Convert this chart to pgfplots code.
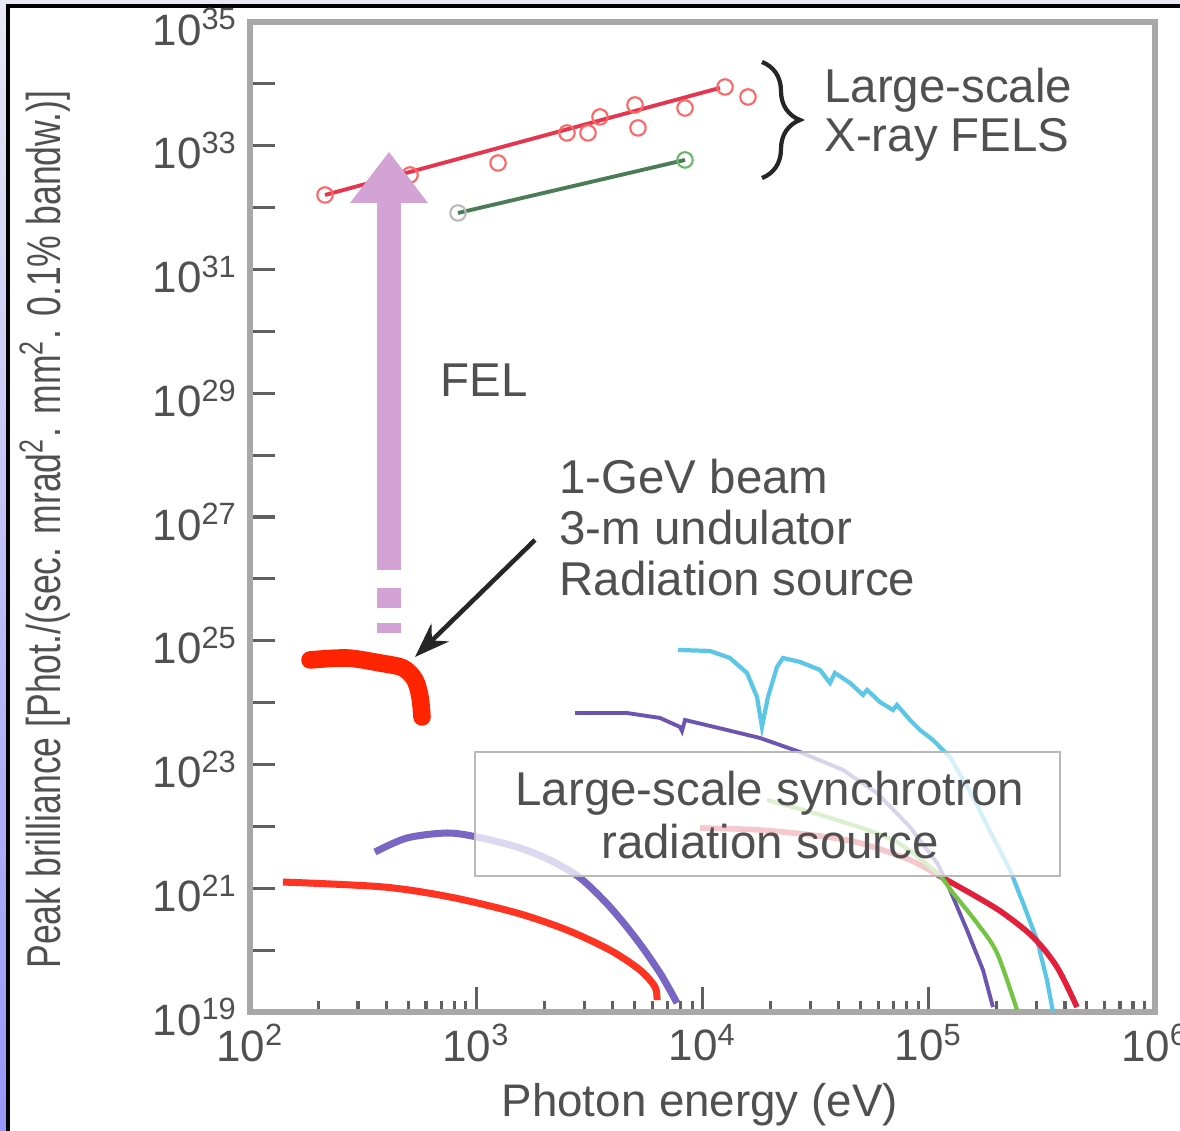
\documentclass[border=0pt]{standalone}
\usepackage{fontspec}
\setmainfont{Liberation Sans}
\newfontfamily\condfont{Liberation Sans}[FakeStretch=0.75]
\usepackage{pgfplots}
\pgfplotsset{compat=1.18}
\usetikzlibrary{decorations.pathreplacing,arrows.meta}

\definecolor{txt}{HTML}{505050}
\definecolor{felpink}{HTML}{D4A3D6}
\definecolor{blobred}{HTML}{FF2400}
\definecolor{lowred}{HTML}{FF3322}
\definecolor{purp}{HTML}{7766C4}
\definecolor{purpthin}{HTML}{6B55B0}
\definecolor{cyanc}{HTML}{5CC6E6}
\definecolor{crim}{HTML}{E2203C}
\definecolor{lgreen}{HTML}{74C444}
\definecolor{dgreen}{HTML}{4C7C55}
\definecolor{framegray}{HTML}{A8A8A8}
\definecolor{lav}{HTML}{E8E8F6}
\newcommand{\annfont}{\fontsize{13.5}{14.5}\selectfont}

\begin{document}
\begin{tikzpicture}
% slide background
\fill[white] (-2.5,-1.19) rectangle (9.30,10.12);
\shade[top color=lav, bottom color=blue!35!lav] (-2.5,-1.19) rectangle (-2.42,10.12);
\fill[lav] (-2.5,10.06) rectangle (9.30,10.12);
\draw[black, line width=1.2pt] (-2.42,-1.19) -- (-2.42,10.06) -- (9.30,10.06);

\begin{axis}[
    at={(0,0)}, anchor=south west,
    scale only axis, width=9.05cm, height=9.9cm,
    xmode=log, ymode=log,
    xmin=100, xmax=1e6, ymin=1e19, ymax=1e35,
    xtick={1e2,1e3,1e4,1e5,1e6},
    xticklabels={10\textsuperscript{2},10\textsuperscript{3},10\textsuperscript{4},10\textsuperscript{5},10\textsuperscript{6}},
    minor xtick={200,300,400,500,600,700,800,900,2000,3000,4000,5000,6000,7000,8000,9000,2e4,3e4,4e4,5e4,6e4,7e4,8e4,9e4,2e5,3e5,4e5,5e5,6e5,7e5,8e5,9e5},
    ytick={1e19,1e20,1e21,1e22,1e23,1e24,1e25,1e26,1e27,1e28,1e29,1e30,1e31,1e32,1e33,1e34,1e35},
    yticklabels={{10\textsuperscript{19}},{},{10\textsuperscript{21}},{},{10\textsuperscript{23}},{},{10\textsuperscript{25}},{},{10\textsuperscript{27}},{},{10\textsuperscript{29}},{},{10\textsuperscript{31}},{},{10\textsuperscript{33}},{},{10\textsuperscript{35}}},
    yminorticks=false,
    xtick pos=bottom, ytick pos=left,
    tick align=inside,
    major tick length=0.25cm, minor tick length=0.11cm,
    tick style={draw=gray!75!black, line width=0.9pt},
    axis line style={draw=framegray, line width=1.6pt},
    ticklabel style={font=\fontsize{12.5}{14}\selectfont, text=txt},
    yticklabel style={yshift=-0.05cm},
    xlabel={Photon energy (eV)},
    ylabel={Peak brilliance [Phot./(sec. mrad\textsuperscript{2}. mm\textsuperscript{2}. 0.1\% bandw.)]},
    xlabel style={at={(axis description cs:0.497,-0.094)}, anchor=center, font=\fontsize{13}{15}\selectfont, text=txt},
    ylabel style={at={(axis description cs:-0.2265,0.487)}, anchor=center, font=\condfont\fontsize{13.5}{15}\selectfont, text=txt},
]
% large-scale X-ray FELs
\addplot[draw=crim!90, line width=1.1pt] coordinates {(214.6,1.60e32) (11940,8.6e33)};
\addplot[only marks, mark=o, mark size=2.2pt, mark options={draw=red!60, line width=0.6pt}] coordinates {
  (214.6,1.60e32) (509.6,3.37e32) (1248,5.26e32) (2518,1.61e33) (3118,1.61e33)
  (3524,2.92e33) (5031,4.56e33) (5187,1.94e33) (8370,4.07e33) (12574,8.9e33) (15888,6.14e33)};
\addplot[dgreen, line width=1.1pt] coordinates {(830.6,8.19e31) (8370,5.89e32)};
\addplot[only marks, mark=o, mark size=2.2pt, mark options={draw=gray!55, line width=0.6pt}] coordinates {(830.6,8.19e31)};
\addplot[only marks, mark=o, mark size=2.2pt, mark options={draw=green!55!black!60, line width=0.6pt}] coordinates {(8370,5.89e32)};

% 1-GeV beam, 3-m undulator
\addplot[blobred, line width=5pt, smooth, line cap=round] coordinates {
  (184.2,4.89e24) (268.4,5.26e24) (375.5,4.37e24) (474.6,3.63e24)
  (536.2,2.32e24) (564.2,1.23e24) (575.8,5.86e23)};

% large-scale synchrotron sources
\addplot[lowred, line width=2pt, smooth] coordinates {
  (139.9,1.26e21) (387.1,1.05e21) (765.6,7.22e20) (1514,3.98e20) (2518,2.11e20)
  (3902,1.0e20) (5293,4.77e19) (6168,2.54e19) (6295,1.56e19)};
\addplot[purp, line width=2pt, smooth] coordinates {
  (356.8,3.85e21) (494.1,6.49e21) (742.6,7.81e21) (1008,6.73e21) (1514,4.64e21)
  (2118,2.86e21) (2875,1.47e21) (3902,4.98e20) (5133,1.46e20) (6491,4.27e19) (7716,1.40e19)};
\addplot[purpthin, line width=1.1pt] coordinates {
  (2732,6.79e23) (4638,6.79e23) (6491,5.65e23) (7955,4.04e23) (8118,3.48e23) (8370,5.24e23)
  (12833,3.61e23) (17950,2.68e23) (26970,1.59e23) (41780,8.15e22) (59060,3.46e22)
  (82620,9.77e21) (108770,2.56e21) (120400,1.22e21) (147600,2.11e20) (173700,4.77e19) (192300,1.2e19)};
\addplot[cyanc, line width=1.2pt] coordinates {
  (7794,7.1e24) (10793,6.83e24) (13226,5.26e24) (15730,3.01e24) (17414,1.23e24) (18323,4.04e23)
  (19475,1.23e24) (21345,3.77e24) (22689,5.26e24) (26970,4.54e24) (33060,3.37e24) (36600,2.08e24)
  (38510,3.01e24) (44860,2.08e24) (51220,1.33e24) (53360,1.60e24) (60880,1.02e24) (69500,7.60e23)
  (72380,9.16e23) (82620,5.24e23) (91480,3.61e23) (104400,2.49e23) (124100,1.32e23) (156900,2.99e22)
  (192300,6.73e21) (228700,1.97e21) (261000,5.78e20) (300900,1.46e20) (333200,3.29e19) (354200,1e19)};
\addplot[crim, line width=1.6pt, smooth] coordinates {
  (9750,9.42e21) (17950,8.73e21) (33060,6.98e21) (49670,5.38e21) (82620,2.86e21) (115600,1.47e21)
  (163400,7.22e20) (212900,3.98e20) (288900,1.63e20) (368900,5.34e19) (452100,1.2e19)};
\addplot[lgreen, line width=1.2pt, smooth] coordinates {
  (19280,2.67e22) (35500,1.42e22) (69500,6.03e21) (108770,1.76e21) (128000,8.38e20)
  (163400,2.74e20) (200300,8.99e19) (245500,1.08e19)};
\end{axis}

% synchrotron label box
\filldraw[fill=white, fill opacity=0.75, draw=gray!55, line width=0.8pt] (2.25,1.36) rectangle (8.10,2.60);
\node[text=txt, font=\annfont] at (5.20,2.19) {Large-scale synchrotron};
\node[text=txt, font=\annfont] at (5.20,1.70) {radiation source};

% FEL arrow
\fill[felpink] (1.27,4.42) rectangle (1.51,8.12);
\fill[felpink] (1.00,8.09) -- (1.39,8.60) -- (1.78,8.09) -- cycle;
\fill[felpink] (1.27,4.04) rectangle (1.51,4.24);
\fill[felpink] (1.27,3.79) rectangle (1.51,3.89);
\node[anchor=west, text=txt, font=\annfont] at (1.78,6.32) {FEL};

% undulator annotation
\draw[-{Stealth[length=0.35cm,width=0.25cm]}, line width=1.3pt, black!85] (2.85,4.72) -- (1.65,3.55);
\node[anchor=west, align=left, text=txt, font=\annfont] at (2.97,4.84) {1-GeV beam\\3-m undulator\\Radiation source};

% XFEL brace
\draw[decorate, decoration={brace, amplitude=0.38cm}, line width=1.2pt, draw=gray!30!black] (5.12,9.50) -- (5.12,8.34);
\node[anchor=west, text=txt, font=\annfont] at (5.62,9.22) {Large-scale};
\node[anchor=west, text=txt, font=\annfont] at (5.62,8.72) {X-ray FELS};

\pgfresetboundingbox
\path[use as bounding box] (-2.5,-1.19) rectangle (9.30,10.12);
\end{tikzpicture}
\end{document}
